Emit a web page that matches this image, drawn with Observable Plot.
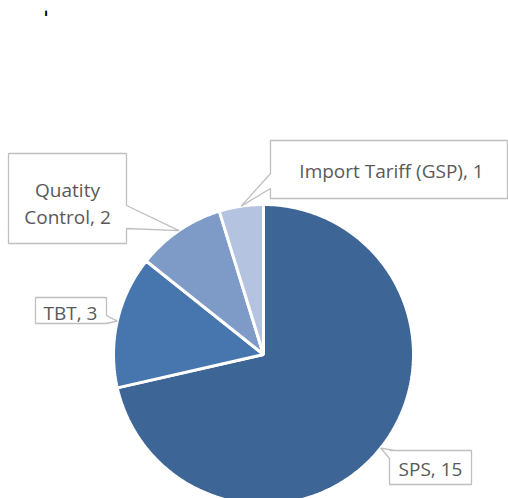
<!DOCTYPE html>
<html><head><meta charset="utf-8">
<script src="https://cdn.jsdelivr.net/npm/d3@7"></script>
<script src="https://cdn.jsdelivr.net/npm/@observablehq/plot@0.6"></script>
<style>html,body{margin:0;padding:0;background:#fff;overflow:hidden}#chart{width:508px;height:498px;overflow:hidden}</style>
</head><body><div id="chart"></div>
<script>
// ---- data ----
const categories = ["SPS", "TBT", "Quatity Control", "Import Tariff (GSP)"];
const values = [15, 3, 2, 1];
const labels = ["SPS, 15", "TBT, 3", "Quatity\nControl, 2", "Import Tariff (GSP), 1"];
const colors = ["#3d6596", "#4775ad", "#7e9bc8", "#b4c3df"];

// ---- layout ----
const W = 508, H = 498, cx = 263, cy = 354, R = 150;
// callout outlines (pixel layout); "TIP" is replaced by the slice's mid-arc point
const callouts = [
  {shape: [[389,450],[471,450],[471,484],[389,484],[389,458],"TIP",[394,450]], text: [430,467]},
  {shape: [[35,297],[106,297],[106,315],"TIP",[106,323],[35,323]], text: [70,311]},
  {shape: [[8,153],[126,153],[126,205],"TIP",[126,228],[126,243],[8,243]], text: [67,201]},
  {shape: [[270,140],[507,140],[507,198],[270,198],[270,188],"TIP",[270,173]], text: [391,169]}
];

const arcs = d3.pie().sort(null).startAngle(0).endAngle(2 * Math.PI)(values);
const pt = (a, r) => [cx + r * Math.sin(a), cy - r * Math.cos(a)];

const slicePts = [];
arcs.forEach((a, i) => {
  slicePts.push({cat: categories[i], color: colors[i], x: cx, y: cy});
  const n = Math.max(2, Math.ceil((a.endAngle - a.startAngle) / (Math.PI / 180)));
  for (let k = 0; k <= n; k++) {
    const t = a.startAngle + (a.endAngle - a.startAngle) * k / n;
    const [x, y] = pt(t, R);
    slicePts.push({cat: categories[i], color: colors[i], x, y});
  }
});

const calloutPts = [];
const textData = [];
callouts.forEach((c, i) => {
  const mid = (arcs[i].startAngle + arcs[i].endAngle) / 2;
  const tip = pt(mid, R);
  c.shape.forEach(p => {
    const [x, y] = p === "TIP" ? tip : p;
    calloutPts.push({cat: categories[i], x, y});
  });
  textData.push({x: c.text[0], y: c.text[1], label: labels[i]});
});

const chart = Plot.plot({
  width: W, height: H,
  margin: 0,
  x: {domain: [0, W], range: [0, W], axis: null},
  y: {domain: [0, H], range: [0, H], axis: null},
  color: {type: "identity"},
  style: {background: "#fff", overflow: "hidden"},
  marks: [
    Plot.line(slicePts, {x: "x", y: "y", z: "cat", fill: "color", stroke: "white", strokeWidth: 3, curve: "linear-closed", strokeLinejoin: "miter"}),
    Plot.line(calloutPts, {x: "x", y: "y", z: "cat", fill: "white", stroke: "#bfbfbf", strokeWidth: 1.3, curve: "linear-closed", strokeLinejoin: "miter"}),
    Plot.text(textData, {x: "x", y: "y", text: "label", fill: "#595959", fontSize: 19, fontFamily: "Open Sans", lineHeight: 1.45}),
    Plot.text(["ˈ"], {x: () => 45.5, y: () => 19, text: d => d, fill: "#000", fontSize: 20, fontWeight: "bold", fontFamily: "DejaVu Sans"})
  ]
});
document.getElementById("chart").appendChild(chart);
</script>
</body></html>
